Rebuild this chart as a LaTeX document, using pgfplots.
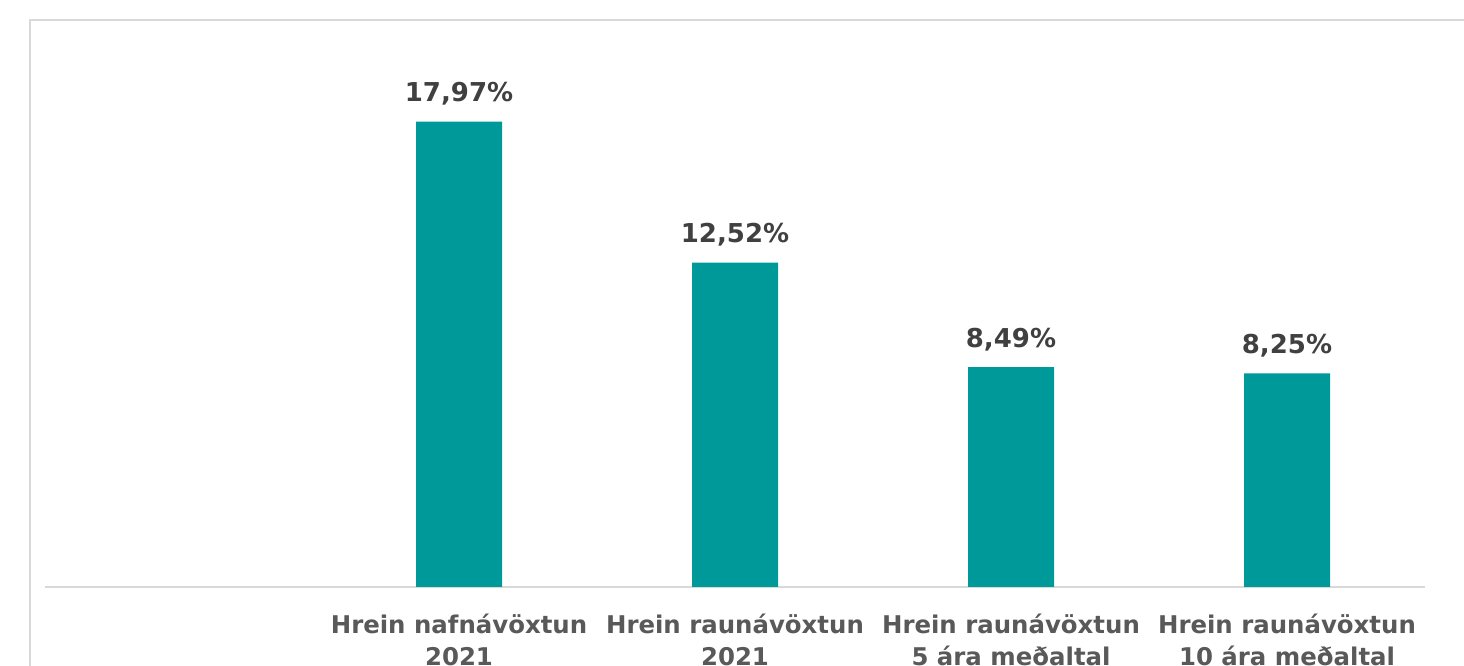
\documentclass[border=0pt]{standalone}
\usepackage{fontspec}
\setmainfont{DejaVu Sans}
\usepackage{pgfplots}
\pgfplotsset{compat=1.18}
\definecolor{barteal}{RGB}{0,153,153}
\definecolor{framegray}{RGB}{217,217,217}
\definecolor{labgray}{RGB}{89,89,89}
\definecolor{valgray}{RGB}{64,64,64}
\begin{document}
\begin{tikzpicture}
\useasboundingbox (0,0) rectangle (732bp,333bp);
\clip (0,0) rectangle (732bp,333bp);
% chart frame (cut off at right and bottom)
\draw[framegray, line width=1.2bp] (15bp,-20bp) -- (15bp,323bp) -- (760bp,323bp);
\begin{axis}[
    at={(22.5bp,39.5bp)}, anchor=south west,
    scale only axis,
    width=690bp, height=259bp,
    xmin=-0.5, xmax=4.5, ymin=0, ymax=20,
    ybar, bar width=43bp,
    axis x line*=bottom, axis y line=none,
    axis line style={draw=framegray, line width=1bp},
    x axis line style={-},
    major tick length=0pt,
    xtick={1,2,3,4},
    xticklabels={{Hrein nafnávöxtun\\2021},{Hrein raunávöxtun\\2021},{Hrein raunávöxtun\\5 ára meðaltal},{Hrein raunávöxtun\\10 ára meðaltal}},
    xticklabel style={align=center, font=\fontsize{12.2bp}{16bp}\selectfont\bfseries, text=labgray, anchor=north, yshift=-10bp},
    nodes near coords={\pgfmathprintnumber{\pgfplotspointmeta}\%},
    nodes near coords style={font=\fontsize{13bp}{15bp}\selectfont\bfseries, text=valgray, anchor=base, inner sep=0pt, yshift=10bp,
        /pgf/number format/.cd, fixed, fixed zerofill, precision=2, use comma, assume math mode=true},
]
\addplot[fill=barteal, draw=none] coordinates {
    (1,17.97) (2,12.52) (3,8.49) (4,8.25)
};
\end{axis}
\end{tikzpicture}
\end{document}
